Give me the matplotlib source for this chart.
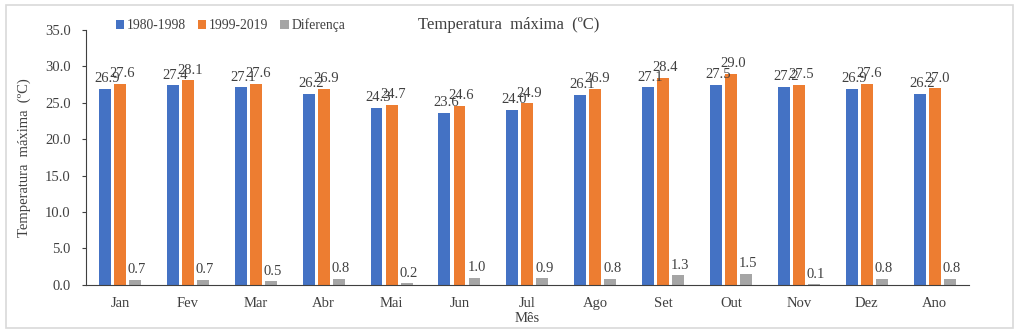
import matplotlib
matplotlib.use("Agg")
import matplotlib.pyplot as plt
import numpy as np
from matplotlib.patches import Rectangle

months = ["Jan", "Fev", "Mar", "Abr", "Mai", "Jun", "Jul", "Ago", "Set", "Out", "Nov", "Dez", "Ano"]
p1980 = [26.9, 27.4, 27.1, 26.2, 24.3, 23.6, 24.0, 26.1, 27.1, 27.5, 27.2, 26.9, 26.2]
p1999 = [27.6, 28.1, 27.6, 26.9, 24.7, 24.6, 24.9, 26.9, 28.4, 29.0, 27.5, 27.6, 27.0]
diff = [0.7, 0.7, 0.5, 0.8, 0.2, 1.0, 0.9, 0.8, 1.3, 1.5, 0.1, 0.8, 0.8]
series_names = ["1980-1998", "1999-2019", "Diferença"]
yticks = [0.0, 5.0, 10.0, 15.0, 20.0, 25.0, 30.0, 35.0]

plt.rcParams['font.family'] = ['Liberation Serif', 'DejaVu Serif']
tc = '#404040'
fs = 10.5

fig = plt.figure(figsize=(10.24, 3.36), dpi=100)
ax = fig.add_axes([0.084, 0.152, 0.862, 0.759])

colors = ['#4472C4', '#ED7D31', '#A5A5A5']
x = np.arange(len(months))
w = 0.175
off = 0.222
for i, (vals, c, name) in enumerate(zip([p1980, p1999, diff], colors, series_names)):
    xs = x + (i - 1) * off
    ax.bar(xs, vals, width=w, color=c, label=name, zorder=2)
    for xi, v in zip(xs, vals):
        ax.text(xi + 0.03, v + 0.5, f"{v:.1f}", ha='center', va='bottom',
                fontsize=fs, color=tc)

ax.set_xlim(-0.5, len(months) - 0.5)
ax.set_ylim(0, 35)
ax.set_yticks(yticks)
ax.set_yticklabels([f"{t:.1f}" for t in yticks], fontsize=fs, color=tc)
ax.set_xticks(x)
ax.set_xticklabels(months, fontsize=fs, color=tc)
ax.tick_params(axis='x', length=0, pad=9)
ax.tick_params(axis='y', length=3, color='#404040', pad=8)
for s in ['top', 'right']:
    ax.spines[s].set_visible(False)
ax.spines['left'].set_color('#404040')
ax.spines['bottom'].set_color('#404040')
ax.set_xlabel("Mês", fontsize=fs, color=tc, labelpad=1)
ax.set_ylabel("Temperatura  máxima  (ºC)", fontsize=fs, color=tc, labelpad=10)

leg = fig.legend(loc='center left', bbox_to_anchor=(0.113, 0.925), ncol=3, frameon=False,
                 fontsize=9.8, handlelength=0.6, handleheight=0.6, handletextpad=0.2,
                 columnspacing=0.9, borderaxespad=0, borderpad=0)
for t in leg.get_texts():
    t.set_color(tc)

fig.text(0.497, 0.925, "Temperatura  máxima  (ºC)", ha='center', va='center',
         fontsize=12, color=tc)

fig.patches.append(Rectangle((0.006, 0.024), 0.983, 0.96, transform=fig.transFigure,
                             fill=False, edgecolor='#D9D9D9', linewidth=1.2))

fig.savefig("out.png", dpi=100)
